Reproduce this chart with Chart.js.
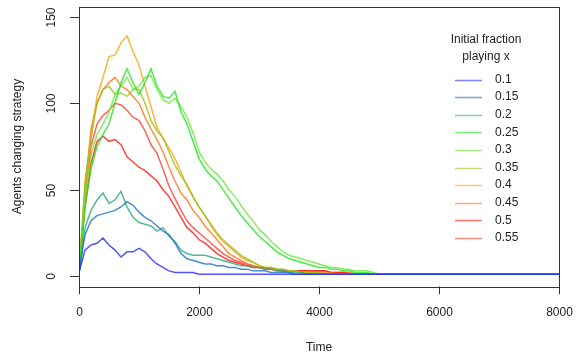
<!DOCTYPE html>
<html>
<head>
<meta charset="utf-8">
<script src="https://cdn.jsdelivr.net/npm/chart.js@4/dist/chart.umd.min.js"></script>
<style>
  body { margin: 0; background: #fff; }
  #wrap { width: 577px; height: 362px; }
</style>
</head>
<body>
<div id="wrap"><canvas id="chart" width="577" height="362"></canvas></div>
<script>
// time steps (x values shared by all series)
const times = [0,100,200,300,400,500,600,700,800,900,
  1000,1100,1200,1300,1400,1500,1600,1700,1800,1900,
  2000,2100,2200,2300,2400,2500,2600,2700,2800,2900,
  3000,3100,3200,3300,3400,3500,3600,3700,3800,3900,
  4000,4100,4200,4300,4400,4500,4600,4700,4800,4900,
  5000,8000];

const fractions = ["0.1","0.15","0.2","0.25","0.3","0.35","0.4","0.45","0.5","0.55"];

const frac010 = [2,15,18,19,22,18,15,11,14,14,
  16,14,10,7,5,3,2,2,2,2,
  1,1,1,1,1,1,1,1,1,1,
  1,1,1,1,1,1,1,1,1,1,
  1,1,1,1,1,1,1,1,1,1,
  1,1];
const frac015 = [2,24,32,35,36,37,38,40,43,41,
  37,34,32,29,26,24,19,13,10,9,
  8,7,7,6,6,5,5,4,4,3,
  3,3,2,2,2,2,1,1,1,1,
  1,1,1,1,1,1,1,1,1,1,
  1,1];
const frac020 = [2,28,38,44,48,42,44,49,40,34,
  31,30,29,26,28,23,20,15,13,12,
  12,12,11,10,9,8,7,6,6,5,
  5,4,4,3,3,2,2,2,1,1,
  1,1,1,1,1,1,1,1,1,1,
  1,1];
const frac025 = [2,40,62,75,82,88,100,112,120,112,
  105,112,120,110,104,103,107,95,88,78,
  68,62,58,55,50,45,40,35,31,27,
  23,20,17,14,12,10,9,8,7,6,
  5,5,4,4,3,3,2,2,2,1,
  1,1];
const frac030 = [2,45,70,82,88,95,105,110,115,108,
  110,115,116,108,102,100,103,98,92,83,
  72,66,62,59,55,50,46,41,36,32,
  27,24,20,17,14,12,11,10,9,8,
  7,6,5,5,4,4,3,3,3,2,
  1,1];
const frac035 = [2,55,80,100,108,110,105,106,104,108,
  108,100,90,84,80,72,64,58,53,46,
  40,35,30,25,21,18,15,12,10,8,
  6,5,5,4,4,3,3,2,2,2,
  2,1,1,1,1,1,1,1,1,1,
  1,1];
const frac040 = [2,50,80,104,115,127,128,135,139,130,
  122,110,98,86,80,74,68,60,52,46,
  40,35,29,24,20,17,14,11,9,8,
  6,5,5,4,4,3,3,2,2,2,
  1,1,1,1,1,1,1,1,1,1,
  1,1];
const frac045 = [2,50,85,100,108,112,115,110,108,104,
  100,92,85,79,72,63,55,48,44,38,
  34,29,25,21,17,13,11,9,7,6,
  5,5,4,4,3,3,3,2,2,2,
  2,2,2,1,1,1,1,1,1,1,
  1,1];
const frac050 = [2,40,65,78,81,78,79,76,69,66,
  63,61,58,55,50,46,40,34,28,25,
  21,19,16,13,11,9,8,7,6,5,
  5,4,4,3,3,3,3,3,3,3,
  3,3,2,2,2,1,1,1,1,1,
  1,1];
const frac055 = [2,45,75,88,93,96,100,99,96,92,
  90,84,76,71,62,52,45,38,32,28,
  25,22,19,16,13,11,9,8,7,6,
  5,5,4,4,3,3,3,3,3,3,
  3,3,2,2,2,2,1,1,1,1,
  1,1];

const xTicks = [0, 2000, 4000, 6000, 8000];
const yTicks = [0, 50, 100, 150];

// base rgb of each run; plot lines are drawn stronger than the legend keys
const rgb = [
  "40,40,255",
  "30,110,200",
  "40,170,120",
  "30,230,30",
  "110,230,60",
  "150,195,20",
  "255,160,20",
  "255,115,20",
  "255,25,10",
  "255,60,50"
];

const allSeries = [frac010, frac015, frac020, frac025, frac030, frac035, frac040, frac045, frac050, frac055];

const datasets = allSeries.map((vals, i) => ({
  label: fractions[i],
  data: vals.map((v, j) => ({ x: times[j], y: v })),
  borderColor: "rgba(" + rgb[i] + ",0.8)",
  borderWidth: 1.5,
  pointRadius: 0,
  tension: 0,
  fill: false
}));

const FONT = "Liberation Sans, Arial, Helvetica, sans-serif";

// R-style box, axes, titles and legend
const rAxes = {
  id: "rAxes",
  afterDraw(chart) {
    const ctx = chart.ctx;
    const a = chart.chartArea;
    const xs = chart.scales.x, ys = chart.scales.y;
    ctx.save();
    ctx.strokeStyle = "#333";
    ctx.lineWidth = 1;
    ctx.strokeRect(Math.round(a.left) + 0.5, Math.round(a.top) + 0.5,
      Math.round(a.right - a.left), Math.round(a.bottom - a.top));

    ctx.fillStyle = "#222";
    ctx.font = "12px " + FONT;
    // x ticks
    ctx.textAlign = "center";
    ctx.textBaseline = "middle";
    xTicks.forEach(t => {
      const px = Math.round(xs.getPixelForValue(t)) + 0.5;
      ctx.beginPath();
      ctx.moveTo(px, a.bottom);
      ctx.lineTo(px, a.bottom + 8);
      ctx.stroke();
      ctx.fillText(String(t), px, 313);
    });
    // y ticks
    yTicks.forEach(t => {
      const py = Math.round(ys.getPixelForValue(t)) + 0.5;
      ctx.beginPath();
      ctx.moveTo(a.left, py);
      ctx.lineTo(a.left - 9, py);
      ctx.stroke();
      ctx.save();
      ctx.translate(52, py);
      ctx.rotate(-Math.PI / 2);
      ctx.fillText(String(t), 0, 0);
      ctx.restore();
    });
    // axis titles
    ctx.fillText("Time", (a.left + a.right) / 2, 348);
    ctx.save();
    ctx.translate(18, (a.top + a.bottom) / 2);
    ctx.rotate(-Math.PI / 2);
    ctx.fillText("Agents changing strategy", 0, 0);
    ctx.restore();

    // legend
    ctx.fillText("Initial fraction", 486, 40);
    ctx.fillText("playing x", 486, 57);
    ctx.textAlign = "left";
    fractions.forEach((f, i) => {
      const y = 79.5 + i * 17.6;
      ctx.strokeStyle = "rgba(" + rgb[i] + ",0.6)";
      ctx.lineWidth = 1.5;
      ctx.beginPath();
      ctx.moveTo(455, Math.round(y) + 0.5);
      ctx.lineTo(482, Math.round(y) + 0.5);
      ctx.stroke();
      ctx.fillText(f, 495, y);
    });
    ctx.restore();
  }
};

new Chart(document.getElementById("chart"), {
  type: "line",
  data: { datasets },
  options: {
    responsive: false,
    animation: false,
    layout: { padding: { left: 79, right: 18, top: 6.6, bottom: 75.6 } },
    plugins: { legend: { display: false }, tooltip: { enabled: false } },
    scales: {
      x: { type: "linear", min: 0, max: 8000, display: false },
      y: { type: "linear", min: -6, max: 156, display: false }
    }
  },
  plugins: [rAxes]
});
</script>
</body>
</html>
